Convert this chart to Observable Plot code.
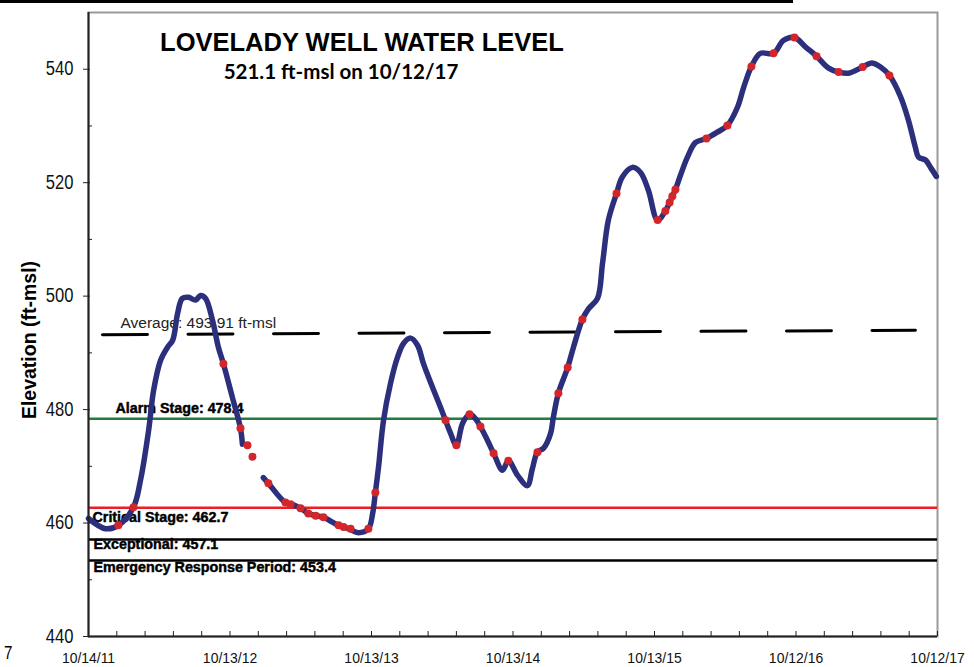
<!DOCTYPE html>
<html><head><meta charset="utf-8">
<script src="https://cdn.jsdelivr.net/npm/d3@7"></script>
<script src="https://cdn.jsdelivr.net/npm/@observablehq/plot@0.6"></script>
<style>
body{margin:0;background:#fff;}
#wrap{position:relative;width:974px;height:667px;overflow:hidden;font-family:"Liberation Sans",Arial,sans-serif;}
#topbar{position:absolute;left:0;top:0;width:793px;height:3px;background:#000;}
#title{position:absolute;left:0;width:724px;top:28px;text-align:center;font:bold 25.5px "Liberation Sans",Arial,sans-serif;color:#000;}
#subtitle{position:absolute;left:0;width:682px;top:59px;text-align:center;font:bold 20.5px Lato,"Open Sans",sans-serif;color:#000;}
#ylabel{position:absolute;left:29px;top:340px;transform:translate(-50%,-50%) rotate(-90deg);white-space:nowrap;font:bold 19.5px "Liberation Sans",Arial,sans-serif;}
#seven{position:absolute;left:4px;top:642px;font:19px "Liberation Sans",Arial,sans-serif;transform:scaleX(0.8);transform-origin:left center;}
#chart{position:absolute;left:0;top:0;}
</style></head><body>
<div id="wrap">
<div id="chart"></div>
<div id="topbar"></div>
<div id="title">LOVELADY WELL WATER LEVEL</div>
<div id="subtitle">521.1 ft-msl on 10/12/17</div>
<div id="ylabel">Elevation (ft-msl)</div>
<div id="seven">7</div>
</div>
<script>
// Days since 10/14/2011 and water level (ft-msl); null marks a gap in the record
const days = [0,44,77,116,134,155,168,186,204,217,230,242,258,276,289,302,320,335,348,371,392,397,424,
  451,464,508,526,547,567,586,606,645,671,696,722,733,740,748,761,779,797,813,831,849,864,887,908,921,934,949,965,983,998,1011,1029,1045,1068,1083,1107,1132,1145,1158,1174,1192,1199,1212,1236,1251,1274,1290,1313,1326,1341,1362,1377,1403,1424,1444,1468,1488,1499,1506,1514,1527,1545,1566,1594,1622,1648,1674,1690,1710,1733,1767,1793,1821,1850,1878,1909,1935,1960,1997,2020,2043,2066,2095,2115,2133,2141,2159,2172,2187];
const levels = [460.8,459.0,459.6,462.8,467.5,476.3,483.4,488.7,491.0,492.2,497.0,499.6,499.8,499.3,500.1,499.6,495.7,491.0,488.1,482.2,476.7,473.9,null,
  468.0,467.0,463.6,463.3,462.6,461.7,461.3,461.0,459.6,459.0,458.3,459.0,461.7,465.4,469.8,478.1,484.6,489.2,491.7,492.6,491.3,488.1,484.0,480.4,478.1,475.8,473.7,477.6,479.2,478.4,477.0,474.6,472.3,469.3,471.0,468.4,466.6,469.6,472.5,473.2,475.8,478.6,482.9,487.4,491.0,495.9,497.8,499.6,505.8,513.4,518.1,521.0,522.7,521.8,518.7,513.4,515.0,516.5,517.6,518.8,521.3,524.5,527.1,527.8,528.9,530.1,533.3,536.8,540.5,542.8,542.8,545.1,545.6,543.9,542.3,540.2,539.5,539.3,540.4,541.1,540.4,538.9,535.1,531.0,526.2,524.5,524.0,522.7,521.1];
// Measured readings (red dots)
const dotDays = [77,116,348,392,410,423,464,508,521,547,567,586,606,645,658,676,722,740,921,949,983,1011,1045,1083,1158,1212,1236,1274,1362,1468,1488,1499,1506,1514,1594,1648,1710,1767,1821,1878,1935,1997,2066];
const dotLevels = [459.6,462.8,488.1,476.7,473.7,471.7,467.0,463.6,463.3,462.6,461.7,461.3,461.0,459.6,459.3,459.0,459.0,465.4,478.1,473.7,479.2,477.0,472.3,471.0,472.5,482.9,487.4,495.9,518.1,513.4,515.0,516.5,517.6,518.8,527.8,530.1,540.5,542.8,545.6,542.3,539.5,540.4,538.9];
// Stage thresholds
const stageNames = ["Alarm Stage","Critical Stage","Exceptional","Emergency Response Period"];
const stageLevels = [478.4,462.7,457.1,453.4];
const stageColors = ["#1e7d3f","#ee1c24","#000000","#000000"];
// Average trend line
const averageLabel = "Average: 493.91 ft-msl";
const averageDays = [36,2133];
const averageLevels = [493.2,494.0];
// Axis ticks
const yTicks = [440,460,480,500,520,540];
const yMinorTicks = [450,470,490,510,530];
const xTickLabels = ["10/14/11","10/13/12","10/13/13","10/13/14","10/13/15","10/12/16","10/12/17"];
const xTickDays = [0,365,730,1095,1460,1825,2190];
const xMinorTickDays = d3.range(0,2191,73);

const t0 = Date.UTC(2011,9,14);
const toDate = d => new Date(t0 + d*864e5);
const series = days.map((d,i)=>({date:toDate(d), level:levels[i]}));
const dots = dotDays.map((d,i)=>({date:toDate(d), level:dotLevels[i]}));
const avg = averageDays.map((d,i)=>({date:toDate(d), level:averageLevels[i]}));
const stages = stageNames.map((n,i)=>({name:n, level:stageLevels[i], color:stageColors[i]}));
const xLabels = xTickDays.map((d,i)=>({date:toDate(d), label:xTickLabels[i]}));

const stageText = (i, dx, dy) => Plot.text([stages[i]], {y:"level", frameAnchor:"left", textAnchor:"start", dx, dy,
  text:d=>`${d.name}: ${d.level}`, fontSize:14.3, fontWeight:"bold", fill:"#000", stroke:"#000", strokeWidth:0.45, fontFamily:"Liberation Sans, Arial, sans-serif"});

const chart = Plot.plot({
  width:974, height:667,
  marginLeft:88, marginRight:37, marginTop:12, marginBottom:31,
  style:{fontFamily:"Liberation Sans, Arial, sans-serif", background:"transparent"},
  x:{type:"utc", domain:[toDate(0), toDate(2190)], label:null},
  y:{domain:[440,550], label:null},
  marks:[
    Plot.frame({stroke:"#999", strokeWidth:2}),
    Plot.ruleY(stages, {y:"level", stroke:"color", strokeWidth:2.5}),
    Plot.line(avg, {x:"date", y:"level", stroke:"#000", strokeWidth:3, strokeDasharray:"45,40.5"}),
    Plot.text([averageLabel], {text:d=>d, frameAnchor:"left", y:averageLevels[0], dx:32, dy:-12, textAnchor:"start", fontSize:15.5, fill:"#222"}),
    stageText(0, 27, -10),
    stageText(1, 4, 10),
    stageText(2, 5, 5),
    stageText(3, 5, 7),
    Plot.line(series, {x:"date", y:"level", stroke:"#2b2f7c", strokeWidth:5.5, curve:"catmull-rom", strokeLinecap:"round", strokeLinejoin:"round"}),
    Plot.dot(dots, {x:"date", y:"level", r:4, fill:"#d3262b"}),
    Plot.ruleX([toDate(0)], {stroke:"#222", strokeWidth:2}),
    Plot.ruleY([440], {stroke:"#222", strokeWidth:2}),
    Plot.axisY({ticks:yTicks, tickSize:7, dx:2, tickFormat:()=>"", stroke:"#222", label:null}),
    Plot.axisY({ticks:yMinorTicks, tickSize:4, dx:4, tickFormat:()=>"", stroke:"#222", label:null}),
    Plot.axisX({ticks:xMinorTickDays.map(toDate), tickSize:5, dy:-5, tickFormat:()=>"", stroke:"#222", label:null}),
    // tick labels drawn as text through the scales
    Plot.text(yTicks, {y:d=>d, text:d=>String(d), frameAnchor:"left", textAnchor:"end", dx:-15, fontSize:19.5, fill:"#111", className:"ylab"}),
    Plot.text(xLabels, {x:"date", text:"label", frameAnchor:"bottom", lineAnchor:"top", dy:15, fontSize:15.5, fill:"#111", className:"xlab"})
  ]
});
document.getElementById("chart").appendChild(chart);
// condense the tick labels horizontally about their anchor points
const condense = (sel, k) => d3.select(chart).selectAll(sel).each(function(){
  const t = this.getAttribute("transform") || "";
  this.setAttribute("transform", t + ` scale(${k},1)`);
});
condense(".xlab text", 0.9);
condense(".ylab text", 0.85);
</script>
</body></html>
